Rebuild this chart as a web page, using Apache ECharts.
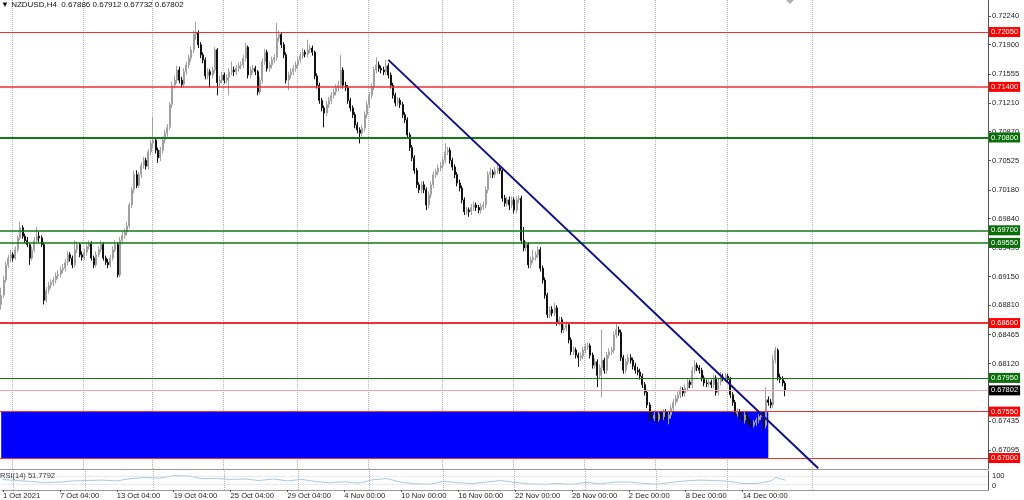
<!DOCTYPE html>
<html><head><meta charset="utf-8">
<script src="https://cdn.jsdelivr.net/npm/echarts@6/dist/echarts.min.js"></script>
<style>html,body{margin:0;padding:0;background:#fff}#c{width:1024px;height:500px}</style>
</head><body><div id="c"></div>
<script>
// OHLC as [open, close, low, high]
const candles = [
[.6882,.6893,.6876,.6902],[.6893,.6911,.6890,.6916],[.6911,.6929,.6908,.6933],[.6929,.6937,.6925,.6941],[.6937,.6941,.6932,.6947],
[.6941,.6937,.6933,.6944],[.6937,.6947,.6935,.6951],[.6947,.6961,.6944,.6964],[.6961,.6973,.6958,.6980],[.6973,.6963,.6960,.6976],
[.6963,.6958,.6955,.6966],[.6958,.6953,.6950,.6962],[.6953,.6937,.6929,.6955],[.6937,.6947,.6934,.6951],[.6947,.6958,.6944,.6962],
[.6958,.6963,.6955,.6974],[.6963,.6961,.6956,.6968],[.6961,.6953,.6950,.6964],[.6953,.6887,.6882,.6956],[.6887,.6899,.6884,.6903],
[.6899,.6905,.6895,.6909],[.6905,.6908,.6901,.6912],[.6908,.6911,.6904,.6915],[.6911,.6916,.6907,.6920],[.6916,.6918,.6912,.6923],
[.6918,.6923,.6914,.6927],[.6923,.6925,.6919,.6930],[.6925,.6932,.6921,.6936],[.6932,.6941,.6928,.6945],[.6941,.6937,.6933,.6944],
[.6937,.6929,.6925,.6940],[.6929,.6947,.6926,.6958],[.6947,.6953,.6943,.6957],[.6953,.6941,.6938,.6955],[.6941,.6938,.6934,.6945],
[.6938,.6944,.6935,.6948],[.6944,.6951,.6940,.6955],[.6951,.6954,.6947,.6958],[.6954,.6937,.6934,.6957],[.6937,.6929,.6925,.6940],
[.6929,.6941,.6926,.6945],[.6941,.6947,.6938,.6951],[.6947,.6953,.6944,.6958],[.6953,.6937,.6934,.6956],[.6937,.6932,.6929,.6940],
[.6932,.6929,.6925,.6936],[.6929,.6937,.6926,.6941],[.6937,.6947,.6934,.6951],[.6947,.6953,.6944,.6958],[.6953,.6917,.6914,.6956],
[.6917,.6958,.6914,.6962],[.6958,.6964,.6954,.6968],[.6964,.6968,.6960,.6972],[.6968,.6975,.6964,.6980],[.6975,.7000,.6972,.7003],
[.7000,.7018,.6996,.7021],[.7018,.7036,.7014,.7040],[.7036,.7023,.7020,.7041],[.7023,.7036,.7020,.7039],[.7036,.7047,.7032,.7051],
[.7047,.7053,.7043,.7057],[.7053,.7046,.7042,.7056],[.7046,.7063,.7042,.7066],[.7063,.7073,.7059,.7077],[.7073,.7077,.7068,.7104],
[.7077,.7065,.7061,.7080],[.7065,.7056,.7050,.7068],[.7056,.7065,.7052,.7069],[.7065,.7077,.7061,.7081],[.7077,.7085,.7073,.7089],
[.7085,.7092,.7081,.7096],[.7092,.7119,.7089,.7122],[.7119,.7142,.7115,.7146],[.7142,.7148,.7138,.7153],[.7148,.7160,.7144,.7165],
[.7160,.7148,.7144,.7164],[.7148,.7143,.7139,.7152],[.7143,.7158,.7140,.7162],[.7158,.7166,.7154,.7170],[.7166,.7174,.7162,.7178],
[.7174,.7184,.7170,.7188],[.7184,.7202,.7180,.7207],[.7202,.7204,.7196,.7217],[.7204,.7190,.7186,.7207],[.7190,.7178,.7174,.7193],
[.7178,.7172,.7168,.7181],[.7172,.7153,.7149,.7175],[.7153,.7158,.7149,.7162],[.7158,.7154,.7139,.7161],[.7154,.7160,.7150,.7164],
[.7160,.7184,.7156,.7187],[.7184,.7145,.7130,.7186],[.7145,.7148,.7141,.7153],[.7148,.7154,.7144,.7158],[.7154,.7148,.7144,.7157],
[.7148,.7151,.7144,.7155],[.7151,.7158,.7130,.7162],[.7158,.7160,.7154,.7170],[.7160,.7158,.7153,.7164],[.7158,.7162,.7154,.7166],
[.7162,.7165,.7158,.7169],[.7165,.7166,.7161,.7170],[.7166,.7174,.7162,.7178],[.7174,.7187,.7170,.7192],[.7187,.7154,.7150,.7189],
[.7154,.7160,.7150,.7164],[.7160,.7162,.7156,.7166],[.7162,.7158,.7154,.7165],[.7158,.7134,.7130,.7160],[.7134,.7148,.7131,.7152],
[.7148,.7170,.7144,.7174],[.7170,.7181,.7166,.7185],[.7181,.7162,.7158,.7184],[.7162,.7166,.7158,.7170],[.7166,.7172,.7162,.7176],
[.7172,.7175,.7168,.7179],[.7175,.7198,.7171,.7216],[.7198,.7202,.7194,.7207],[.7202,.7190,.7186,.7205],[.7190,.7178,.7174,.7193],
[.7178,.7148,.7144,.7181],[.7148,.7154,.7136,.7158],[.7154,.7158,.7150,.7162],[.7158,.7162,.7154,.7166],[.7162,.7166,.7158,.7170],
[.7166,.7172,.7162,.7176],[.7172,.7177,.7168,.7181],[.7177,.7181,.7173,.7186],[.7181,.7179,.7175,.7184],[.7179,.7184,.7175,.7196],
[.7184,.7186,.7180,.7190],[.7186,.7181,.7177,.7189],[.7181,.7153,.7149,.7183],[.7153,.7142,.7138,.7156],[.7142,.7124,.7120,.7145],
[.7124,.7115,.7111,.7127],[.7115,.7109,.7092,.7118],[.7109,.7119,.7105,.7123],[.7119,.7124,.7115,.7128],[.7124,.7130,.7120,.7134],
[.7130,.7134,.7126,.7138],[.7134,.7139,.7130,.7143],[.7139,.7142,.7135,.7147],[.7142,.7160,.7138,.7178],[.7160,.7142,.7138,.7163],
[.7142,.7139,.7135,.7146],[.7139,.7124,.7120,.7142],[.7124,.7115,.7111,.7127],[.7115,.7107,.7103,.7118],[.7107,.7095,.7091,.7110],
[.7095,.7089,.7085,.7098],[.7089,.7085,.7073,.7092],[.7085,.7091,.7081,.7095],[.7091,.7107,.7087,.7111],[.7107,.7119,.7103,.7123],
[.7119,.7130,.7115,.7134],[.7130,.7140,.7126,.7144],[.7140,.7160,.7136,.7164],[.7160,.7166,.7156,.7175],[.7166,.7162,.7158,.7170],
[.7162,.7160,.7156,.7165],[.7160,.7158,.7154,.7164],[.7158,.7165,.7154,.7172],[.7165,.7154,.7150,.7168],[.7154,.7142,.7138,.7157],
[.7142,.7130,.7126,.7145],[.7130,.7121,.7117,.7133],[.7121,.7124,.7117,.7128],[.7124,.7119,.7115,.7127],[.7119,.7107,.7103,.7122],
[.7107,.7101,.7097,.7110],[.7101,.7083,.7079,.7104],[.7083,.7068,.7064,.7086],[.7068,.7056,.7052,.7071],[.7056,.7041,.7037,.7059],
[.7041,.7024,.7020,.7044],[.7024,.7018,.7014,.7027],[.7018,.7024,.7014,.7028],[.7024,.7018,.7014,.7028],[.7018,.7000,.6994,.7021],
[.7000,.7012,.6996,.7016],[.7012,.7024,.7008,.7028],[.7024,.7036,.7020,.7040],[.7036,.7039,.7032,.7043],[.7039,.7044,.7035,.7048],
[.7044,.7047,.7040,.7051],[.7047,.7053,.7043,.7057],[.7053,.7063,.7049,.7073],[.7063,.7065,.7059,.7069],[.7065,.7053,.7049,.7068],
[.7053,.7045,.7041,.7056],[.7045,.7036,.7032,.7048],[.7036,.7026,.7022,.7039],[.7026,.7020,.7016,.7030],[.7020,.7006,.7002,.7023],
[.7006,.6992,.6988,.7009],[.6992,.6994,.6988,.6998],[.6994,.6992,.6986,.6997],[.6992,.6997,.6988,.7001],[.6997,.7000,.6993,.7004],
[.7000,.6997,.6993,.7003],[.6997,.6994,.6990,.7000],[.6994,.6998,.6990,.7002],[.6998,.7000,.6994,.7004],[.7000,.7018,.6996,.7022],
[.7018,.7036,.7014,.7040],[.7036,.7039,.7032,.7044],[.7039,.7036,.7032,.7042],[.7036,.7041,.7032,.7045],[.7041,.7044,.7037,.7050],
[.7044,.7041,.7037,.7047],[.7041,.7008,.7004,.7044],[.7008,.7002,.6998,.7012],[.7002,.7006,.6998,.7010],[.7006,.7000,.6994,.7010],
[.7000,.7006,.6996,.7010],[.7006,.6994,.6990,.7009],[.6994,.7006,.6990,.7010],[.7006,.7008,.7002,.7012],[.7008,.6958,.6954,.7011],
[.6958,.6949,.6945,.6974],[.6949,.6953,.6945,.6957],[.6953,.6929,.6925,.6956],[.6929,.6935,.6925,.6939],[.6935,.6938,.6931,.6947],
[.6938,.6941,.6934,.6945],[.6941,.6947,.6937,.6951],[.6947,.6925,.6921,.6950],[.6925,.6911,.6907,.6928],[.6911,.6893,.6889,.6914],
[.6893,.6870,.6866,.6896],[.6870,.6876,.6866,.6880],[.6876,.6872,.6868,.6880],[.6872,.6878,.6868,.6884],[.6878,.6861,.6857,.6881],
[.6861,.6864,.6857,.6868],[.6864,.6852,.6848,.6867],[.6852,.6854,.6848,.6858],[.6854,.6858,.6850,.6862],[.6858,.6840,.6836,.6861],
[.6840,.6826,.6822,.6843],[.6826,.6828,.6822,.6832],[.6828,.6822,.6818,.6831],[.6822,.6819,.6808,.6825],[.6819,.6821,.6815,.6825],
[.6821,.6828,.6817,.6832],[.6828,.6832,.6824,.6836],[.6832,.6833,.6828,.6837],[.6833,.6822,.6818,.6836],[.6822,.6810,.6806,.6825],
[.6810,.6814,.6806,.6818],[.6814,.6798,.6784,.6817],[.6798,.6807,.6794,.6811],[.6807,.6816,.6772,.6852],[.6816,.6804,.6800,.6819],
[.6804,.6822,.6800,.6826],[.6822,.6826,.6818,.6830],[.6826,.6828,.6822,.6832],[.6828,.6846,.6824,.6850],[.6846,.6852,.6842,.6861],
[.6852,.6849,.6845,.6856],[.6849,.6819,.6815,.6852],[.6819,.6804,.6800,.6822],[.6804,.6814,.6800,.6818],[.6814,.6819,.6810,.6823],
[.6819,.6816,.6812,.6823],[.6816,.6809,.6805,.6819],[.6809,.6804,.6800,.6813],[.6804,.6802,.6798,.6808],[.6802,.6797,.6793,.6806],
[.6797,.6787,.6783,.6800],[.6787,.6778,.6774,.6790],[.6778,.6763,.6759,.6781],[.6763,.6751,.6743,.6766],[.6751,.6747,.6744,.6755],
[.6747,.6751,.6744,.6755],[.6751,.6746,.6740,.6754],[.6746,.6752,.6743,.6756],[.6752,.6749,.6745,.6756],[.6749,.6755,.6745,.6758],
[.6755,.6747,.6743,.6758],[.6747,.6751,.6740,.6755],[.6751,.6759,.6747,.6763],[.6759,.6766,.6755,.6770],[.6766,.6771,.6762,.6775],
[.6771,.6775,.6767,.6779],[.6775,.6781,.6771,.6785],[.6781,.6777,.6773,.6784],[.6777,.6783,.6773,.6787],[.6783,.6790,.6779,.6794],
[.6790,.6787,.6783,.6793],[.6787,.6804,.6783,.6808],[.6804,.6810,.6800,.6816],[.6810,.6807,.6803,.6813],[.6807,.6804,.6800,.6810],
[.6804,.6795,.6791,.6807],[.6795,.6789,.6785,.6798],[.6789,.6788,.6784,.6793],[.6788,.6790,.6784,.6794],[.6790,.6787,.6783,.6793],
[.6787,.6795,.6783,.6799],[.6795,.6778,.6774,.6798],[.6778,.6790,.6774,.6794],[.6790,.6796,.6786,.6802],[.6796,.6795,.6791,.6800],
[.6795,.6797,.6791,.6801],[.6797,.6793,.6789,.6800],[.6793,.6775,.6771,.6796],[.6775,.6766,.6762,.6778],[.6766,.6753,.6749,.6769],
[.6753,.6755,.6749,.6759],[.6755,.6751,.6747,.6758],[.6751,.6745,.6741,.6754],[.6745,.6751,.6741,.6755],[.6751,.6745,.6741,.6754],
[.6745,.6740,.6737,.6748],[.6740,.6739,.6736,.6744],[.6739,.6742,.6736,.6745],[.6742,.6745,.6738,.6748],[.6745,.6749,.6741,.6752],
[.6749,.6751,.6745,.6756],[.6751,.6739,.6733,.6755],[.6739,.6769,.6735,.6784],[.6769,.6766,.6762,.6773],[.6766,.6763,.6759,.6770],
[.6763,.6816,.6759,.6822],[.6816,.6828,.6812,.6832],[.6828,.6796,.6792,.6830],[.6796,.6793,.6789,.6800],[.6793,.6789,.6785,.6797],
[.67886,.67802,.67732,.67912]
];
// RSI(14) readings as [bar index, value]
const rsiPoints = [[0,55],[6,50],[12,45],[18,38],[24,42],[30,48],[36,50],[42,52],[48,48],[54,60],[60,66],[66,62],[72,76],[78,74],
[84,60],[90,60],[96,56],[102,58],[108,50],[114,58],[120,48],[126,56],[132,44],[138,38],[144,44],[150,36],[156,54],[162,60],[168,40],
[174,33],[180,30],[186,46],[192,38],[198,34],[204,42],[210,50],[216,40],[222,32],[228,30],[234,34],[240,30],[246,40],[252,32],[258,42],
[264,42],[270,35],[276,30],[282,40],[288,48],[294,52],[300,50],[306,46],[312,34],[318,34],[324,48],[326,66],[330,51.7792]];
const totalBars = 416; // visible bar slots incl. empty right shift area
const priceTicks = [0.7224,0.719,0.71555,0.7121,0.7087,0.70525,0.7018,0.6984,0.69495,0.6915,0.6881,0.68465,0.6812,0.67775,0.67435,0.67095];
const dateLabels = ['1 Oct 2021','7 Oct 04:00','13 Oct 04:00','19 Oct 04:00','25 Oct 04:00','29 Oct 04:00','4 Nov 00:00','10 Nov 00:00','16 Nov 00:00','22 Nov 00:00','26 Nov 00:00','2 Dec 00:00','8 Dec 00:00','14 Dec 00:00'];
const dateLabelBars = [0,24,48,72,96,120,144,168,192,216,240,264,288,312];
const vGridBars = [5,35,64,94,125,155,186,216,246,276,306,342];
const resistanceLevels = [0.7205,0.714,0.686,0.6755,0.67];
const supportLevels = [0.708,0.697,0.6955,0.6795];
const zoneTop = 0.6755, zoneBottom = 0.67, zoneEndBar = 323;
const trendStart = [163, 0.7172], trendEnd = [344, 0.6688];

const cats = [];
for (let i = 0; i < totalBars; i++) cats.push(String(i));
const last = candles[candles.length - 1];
const FONT = 'Liberation Sans';
const thick = {0.714:1.5, 0.686:2, 0.708:1.8, 0.697:1.5, 0.6955:1.5};
function levelItem(v, color, bg) {
  return { yAxis: v,
    lineStyle: { color: color, width: thick[v] || 1, type: 'solid' },
    label: { show: true, position: 'end', distance: 1, formatter: v.toFixed(5), color: '#fff', backgroundColor: bg,
      fontSize: 7.5, fontFamily: FONT, padding: [1, 2, 1, 2] } };
}
const levelData = [];
resistanceLevels.forEach(v => levelData.push(levelItem(v, '#f03030', '#ff0000')));
supportLevels.forEach(v => levelData.push(levelItem(v, '#127a12', '#0a6e0a')));
levelData.push({ yAxis: last[1], lineStyle: { color: '#e8a8a8', width: 1, type: 'solid' },
  label: { show: true, position: 'end', distance: 1, formatter: last[1].toFixed(5), color: '#fff', backgroundColor: '#000',
    fontSize: 7.5, fontFamily: FONT, padding: [1, 2, 1, 2] } });

const isDateBar = (idx) => dateLabelBars.indexOf(idx) >= 0;
const vSplit = { show: true, interval: (i) => vGridBars.indexOf(i) >= 0, lineStyle: { color: '#b2b2b2', type: 'dotted', width: 1 } };

const chart = echarts.init(document.getElementById('c'), null, { renderer: 'canvas' });
chart.setOption({
  animation: false,
  backgroundColor: '#fff',
  textStyle: { fontFamily: FONT },
  title: [
    { text: '\u25BC NZDUSD,H4  ' + [last[0], last[3], last[2], last[1]].map(v => v.toFixed(5)).join(' '),
      left: 1, top: 1, padding: 0, textStyle: { fontSize: 8, fontWeight: 'normal', color: '#111', fontFamily: FONT } },
    { text: 'RSI(14) ' + rsiPoints[rsiPoints.length - 1][1].toFixed(4),
      left: 0, top: 472, padding: 0, textStyle: { fontSize: 7.5, fontWeight: 'normal', color: '#333', fontFamily: FONT } }
  ],
  grid: [
    { left: 0, top: 0, width: 988, height: 469 },
    { left: 0, top: 471, width: 988, height: 19 }
  ],
  xAxis: [
    { type: 'category', gridIndex: 0, data: cats, boundaryGap: true,
      axisLine: { show: true, lineStyle: { color: '#999' } }, axisTick: { show: false }, axisLabel: { show: false }, splitLine: vSplit },
    { type: 'category', gridIndex: 1, data: cats, boundaryGap: true,
      axisLine: { show: true, lineStyle: { color: '#999' } },
      axisTick: { show: true, alignWithLabel: true, interval: (i) => isDateBar(i), length: 2, lineStyle: { color: '#555' } },
      axisLabel: { show: true, interval: (i) => isDateBar(i), formatter: (v, i) => dateLabels[dateLabelBars.indexOf(i)] || '',
        align: 'left', fontSize: 7.6, margin: 2, color: '#222', fontFamily: FONT },
      splitLine: vSplit }
  ],
  yAxis: [
    { type: 'value', gridIndex: 0, position: 'right', min: 0.6687, max: 0.7243, scale: true,
      axisLine: { show: true, lineStyle: { color: '#555' } },
      axisTick: { show: true, length: 3, customValues: priceTicks, lineStyle: { color: '#555' } },
      axisLabel: { show: true, customValues: priceTicks, formatter: v => v.toFixed(5), fontSize: 7.5, color: '#222', margin: 4, fontFamily: FONT },
      splitLine: { show: false } },
    { type: 'value', gridIndex: 1, position: 'right', min: 0, max: 100,
      axisLine: { show: true, lineStyle: { color: '#555' } }, axisTick: { show: false },
      axisLabel: { show: true, customValues: [100, 0], margin: 4, fontSize: 7.5, color: '#222',
        formatter: v => v === 100 ? '{t|100}' : '{b|0}',
        rich: { t: { padding: [10, 0, 0, 0], fontSize: 7.5 }, b: { padding: [0, 0, 8, 0], fontSize: 7.5 } } },
      splitLine: { show: false } }
  ],
  graphic: [
    { type: 'polygon', shape: { points: [[786, 0], [794, 0], [790, 4]] }, style: { fill: '#b0b0b0' }, silent: true }
  ],
  series: [
    { name: 'zone', type: 'line', xAxisIndex: 0, yAxisIndex: 0, data: [], z: 2,
      markArea: { silent: true, itemStyle: { color: '#0000ff', opacity: 1 },
        data: [[{ xAxis: 0, yAxis: zoneTop }, { xAxis: zoneEndBar, yAxis: zoneBottom }]] } },
    { name: 'NZDUSD', type: 'candlestick', xAxisIndex: 0, yAxisIndex: 0, data: candles, z: 3, barWidth: 1.6,
      itemStyle: { color: '#ffffff', color0: '#111111', borderColor: '#a0a0a0', borderColor0: '#111111', borderWidth: 1 } },
    { name: 'levels', type: 'line', xAxisIndex: 0, yAxisIndex: 0, data: [], z: 4,
      markLine: { symbol: 'none', silent: true, precision: 5, data: levelData } },
    { name: 'trend', type: 'line', xAxisIndex: 0, yAxisIndex: 0, data: [], z: 5,
      markLine: { symbol: 'none', silent: true, precision: 5, label: { show: false }, lineStyle: { color: '#10108a', width: 2, type: 'solid' },
        data: [[{ coord: trendStart }, { coord: trendEnd }]] } },
    { name: 'RSI', type: 'line', xAxisIndex: 1, yAxisIndex: 1, data: rsiPoints, symbol: 'none', z: 3,
      lineStyle: { color: '#a9c9dc', width: 1 },
      markLine: { symbol: 'none', silent: true, label: { show: false }, lineStyle: { color: '#d8d8d8', type: 'dotted', width: 1 },
        data: [{ yAxis: 70 }, { yAxis: 30 }] } }
  ]
});
</script></body></html>
